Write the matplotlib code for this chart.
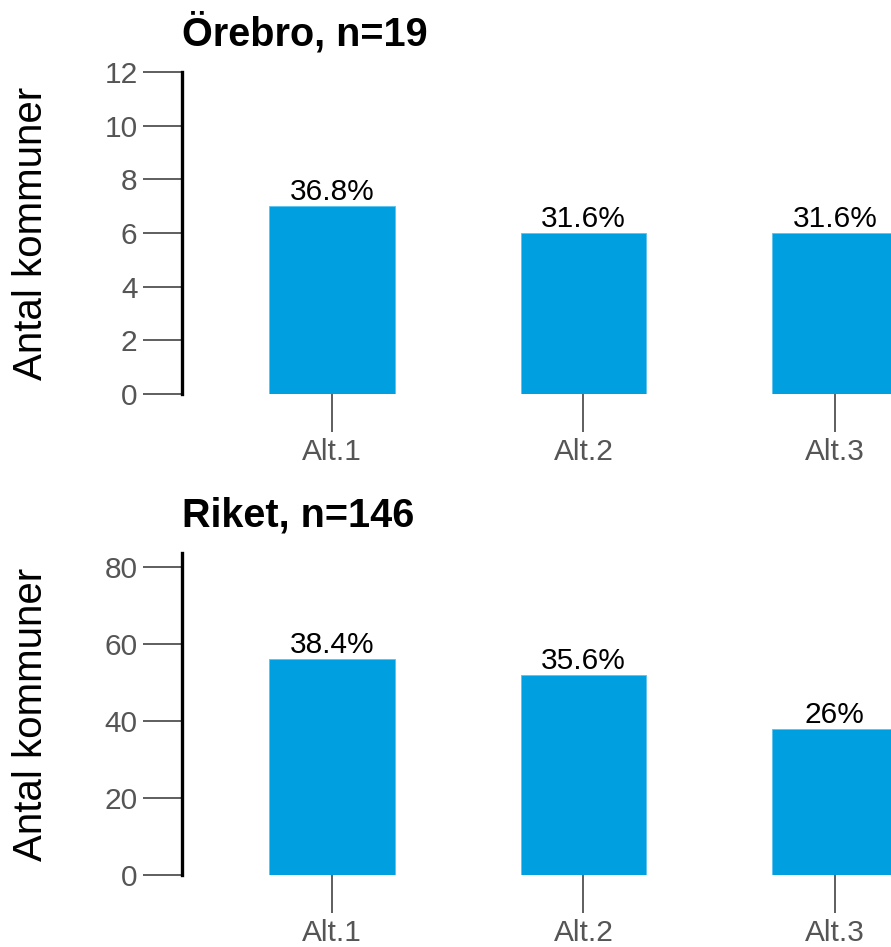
import matplotlib.pyplot as plt
import numpy as np

plt.rcParams['font.family'] = ['Liberation Sans', 'DejaVu Sans']

# data
categories = ['Alt.1', 'Alt.2', 'Alt.3']
orebro_counts = [7, 6, 6]
orebro_n = 19
riket_counts = [56, 52, 38]
riket_n = 146

panels = [
    ('Örebro, n=19', orebro_counts, orebro_n, (0, 12), [0, 2, 4, 6, 8, 10, 12]),
    ('Riket, n=146', riket_counts, riket_n, (0, 83.6), [0, 20, 40, 60, 80]),
]

bar_color = '#009fe0'
tick_gray = '#555555'

fig = plt.figure(figsize=(8.91, 9.47), dpi=100)
# axes rectangles (left, bottom, width, height) in figure fractions
rects = [
    (182 / 891, 1 - 394 / 947, 1 - 182 / 891, 322 / 947),
    (182 / 891, 1 - 875 / 947, 1 - 182 / 891, 322 / 947),
]

for (title, counts, n, ylim, yticks), rect in zip(panels, rects):
    ax = fig.add_axes(rect)
    x = np.arange(len(categories))
    ax.bar(x, counts, width=0.5, color=bar_color, edgecolor='#5cc3ee', linewidth=0.6)

    for xi, c in zip(x, counts):
        pct = round(100 * c / n, 1)
        ax.text(xi, c, f'{pct:g}%', ha='center', va='bottom', fontsize=21.5, color='black')

    ax.set_xlim(-0.596, 2.223)
    ax.set_ylim(*ylim)
    ax.set_xticks(x)
    ax.set_xticklabels(categories)
    ax.set_yticks(yticks)

    for side in ['top', 'right', 'bottom']:
        ax.spines[side].set_visible(False)
    ax.spines['left'].set_linewidth(2.4)
    ax.spines['left'].set_color('black')

    ax.tick_params(axis='y', length=28, width=1.1, color='#333333', pad=4,
                   labelsize=21.5, labelcolor=tick_gray)
    ax.tick_params(axis='x', length=27, width=1.1, color='#333333', pad=5,
                   labelsize=21.5, labelcolor=tick_gray)

    ax.set_ylabel('Antal kommuner', fontsize=29)
    ax.yaxis.set_label_coords(-0.186, 0.5)
    ax.set_title(title, loc='left', fontsize=28.5, fontweight='bold', pad=19)

fig.savefig('out.png', dpi=100)
